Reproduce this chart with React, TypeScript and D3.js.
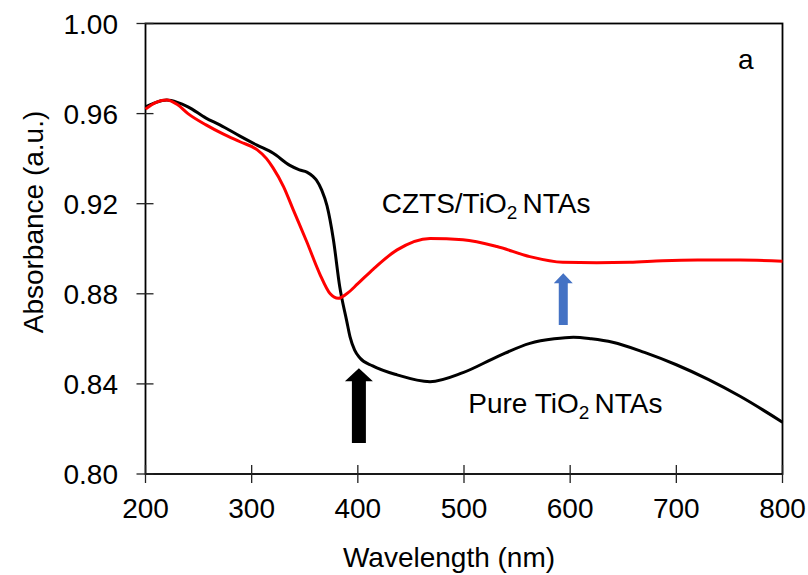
import React, { useEffect, useRef } from "react";
import * as d3 from "d3";

// wavelength (nm) / absorbance
const pureWl = [200, 210, 220, 230, 240, 257, 270, 289, 305, 320, 336, 345, 352, 358, 361, 366, 371, 377, 383, 389.5, 392.6, 397, 402, 414, 437, 468, 499, 531, 562, 585, 603, 620, 640, 670, 700, 730, 760, 800];
const pureAbs = [0.963, 0.965, 0.966, 0.965, 0.963, 0.958, 0.955, 0.950, 0.946, 0.9425, 0.937, 0.935, 0.934, 0.932, 0.9305, 0.926, 0.919, 0.904, 0.883, 0.868, 0.861, 0.855, 0.8515, 0.848, 0.844, 0.841, 0.845, 0.852, 0.858, 0.860, 0.8607, 0.860, 0.8585, 0.854, 0.8485, 0.842, 0.8345, 0.823];

const cztsWl = [200, 210, 220, 230, 240, 257, 273, 289, 305, 314, 320, 330, 339, 352, 364, 374, 381.6, 389.5, 400, 414.6, 437, 468, 499, 531, 562, 593, 625, 656, 687, 720, 760, 800];
const cztsAbs = [0.962, 0.965, 0.966, 0.964, 0.960, 0.955, 0.951, 0.9475, 0.944, 0.940, 0.936, 0.9276, 0.9175, 0.903, 0.889, 0.880, 0.878, 0.880, 0.8845, 0.891, 0.8995, 0.9046, 0.904, 0.901, 0.8965, 0.894, 0.8938, 0.894, 0.8947, 0.895, 0.895, 0.8945];

const xTicks = [200, 300, 400, 500, 600, 700, 800];
const yTicks = [0.80, 0.84, 0.88, 0.92, 0.96, 1.00];

// annotation arrows: [wavelength, tip, bottom]
const blackArrow = [401, 0.847, 0.8138];
const blueArrow = [593.5, 0.8891, 0.8661];

const FONT = "Liberation Sans, Arial, sans-serif";

export default function App() {
    const ref = useRef<SVGSVGElement>(null);

    useEffect(() => {
        document.body.style.margin = "0";
        const svg = d3.select(ref.current);
        svg.selectAll("*").remove();

        const x = d3.scaleLinear().domain([200, 800]).range([145.5, 782.5]);
        const y = d3.scaleLinear().domain([0.80, 1.00]).range([474, 23.5]);

        const g = svg.append("g");

        // frame
        g.append("rect")
            .attr("x", x(200)).attr("y", y(1.0))
            .attr("width", x(800) - x(200)).attr("height", y(0.8) - y(1.0))
            .attr("fill", "none").attr("stroke", "black").attr("stroke-width", 1.8);

        // ticks crossing the axes
        g.selectAll(".yt").data(yTicks).enter().append("line")
            .attr("x1", x(200) - 9).attr("x2", x(200) + 8)
            .attr("y1", d => y(d)).attr("y2", d => y(d))
            .attr("stroke", "#222").attr("stroke-width", 1.3);
        g.selectAll(".xt").data(xTicks).enter().append("line")
            .attr("x1", d => x(d)).attr("x2", d => x(d))
            .attr("y1", y(0.8) - 9).attr("y2", y(0.8) + 9)
            .attr("stroke", "#222").attr("stroke-width", 1.3);

        g.selectAll(".yl").data(yTicks).enter().append("text")
            .attr("x", 118).attr("y", d => y(d) + 10)
            .attr("text-anchor", "end")
            .attr("font-family", FONT).attr("font-size", 28)
            .text(d => d3.format(".2f")(d));
        g.selectAll(".xl").data(xTicks).enter().append("text")
            .attr("x", d => x(d)).attr("y", 518)
            .attr("text-anchor", "middle")
            .attr("font-family", FONT).attr("font-size", 28)
            .text(d => d);

        // axis titles
        g.append("text")
            .attr("x", 449).attr("y", 567)
            .attr("text-anchor", "middle")
            .attr("font-family", FONT).attr("font-size", 28)
            .text("Wavelength (nm)");
        g.append("text")
            .attr("transform", "translate(43,222) rotate(-90)")
            .attr("text-anchor", "middle")
            .attr("font-family", FONT).attr("font-size", 28)
            .text("Absorbance (a.u.)");

        const draw = (wl: number[], ab: number[], color: string) => {
            g.append("path")
                .datum(wl.map((w, i) => [x(w), y(ab[i])] as [number, number]))
                .attr("fill", "none")
                .attr("stroke", color)
                .attr("stroke-width", 3)
                .attr("stroke-linejoin", "round")
                .attr("d", d3.line().curve(d3.curveMonotoneX));
        };
        draw(pureWl, pureAbs, "#000000");
        draw(cztsWl, cztsAbs, "#ff0000");

        // arrows
        const arrow = (a: number[], color: string, shaftW: number, headW: number, headH: number) => {
            const cx = x(a[0]), tip = y(a[1]), bot = y(a[2]);
            const pts: [number, number][] = [
                [cx, tip], [cx + headW / 2, tip + headH], [cx + shaftW / 2, tip + headH],
                [cx + shaftW / 2, bot], [cx - shaftW / 2, bot], [cx - shaftW / 2, tip + headH],
                [cx - headW / 2, tip + headH]
            ];
            g.append("polygon")
                .attr("points", pts.map(p => p.join(",")).join(" "))
                .attr("fill", color);
        };
        arrow(blackArrow, "#000000", 14, 28, 13);
        arrow(blueArrow, "#4472c4", 9, 19, 10);

        // labels
        const label = (px: number, py: number, pre: string) => {
            const t = g.append("text")
                .attr("x", px).attr("y", py)
                .attr("font-family", FONT).attr("font-size", 28);
            t.append("tspan").text(pre);
            t.append("tspan").attr("font-size", 19).attr("dy", 6).text("2 ");
            t.append("tspan").attr("dy", -6).text("NTAs");
        };
        label(x(422.5), y(0.9157), "CZTS/TiO");
        label(x(504), y(0.827), "Pure TiO");

        g.append("text")
            .attr("x", x(758)).attr("y", y(0.98))
            .attr("font-family", FONT).attr("font-size", 28)
            .text("a");
    }, []);

    return <svg ref={ref} width={808} height={575} style={{ display: "block" }} />;
}
